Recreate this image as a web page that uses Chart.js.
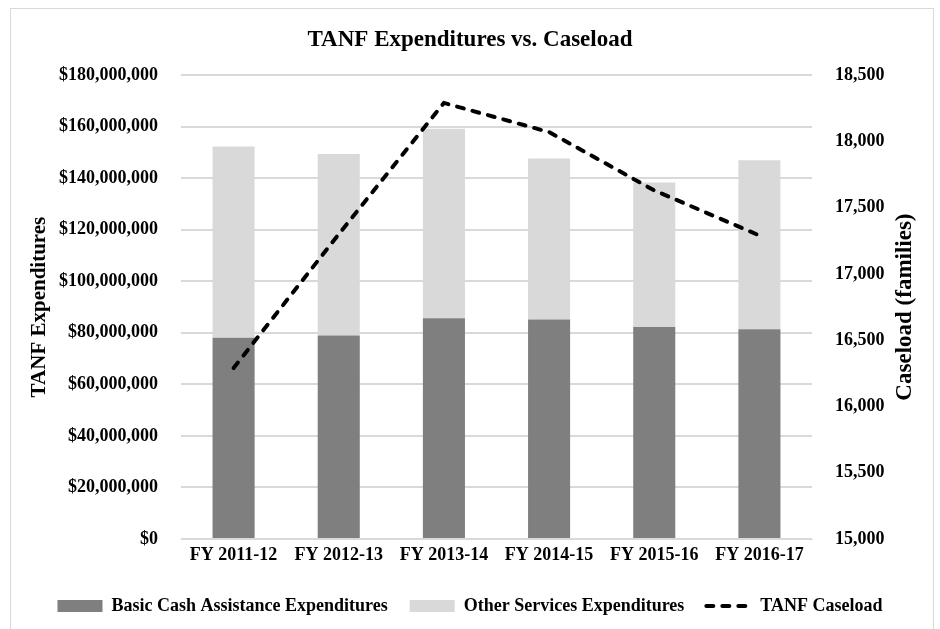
<!DOCTYPE html>
<html>
<head>
<meta charset="utf-8">
<script src="https://cdn.jsdelivr.net/npm/chart.js@4"></script>
<style>
  html, body { margin: 0; padding: 0; background: #fff; }
  #wrap { position: relative; width: 940px; height: 629px; overflow: hidden; }
  #frame { position: absolute; left: 10px; top: 8px; width: 924px; height: 700px; border: 1px solid #d9d9d9; box-sizing: border-box; pointer-events: none; }
  canvas { position: absolute; left: 0; top: 0; }
</style>
</head>
<body>
<div id="wrap">
  <canvas id="c" width="940" height="629"></canvas>
  <div id="frame"></div>
</div>
<script>
// Fiscal years on the category axis
const fiscalYears = ['FY 2011-12', 'FY 2012-13', 'FY 2013-14', 'FY 2014-15', 'FY 2015-16', 'FY 2016-17'];
// Expenditures in dollars
const basicCash = [78100000, 79000000, 85700000, 85200000, 82300000, 81400000];
const otherServices = [74200000, 70400000, 73500000, 62400000, 56000000, 65600000];
// Caseload in families
const caseload = [16290, 17300, 18290, 18070, 17630, 17290];

const seriesNames = ['Basic Cash Assistance Expenditures', 'Other Services Expenditures', 'TANF Caseload'];
const chartTitle = 'TANF Expenditures vs. Caseload';
const leftTitle = 'TANF Expenditures';
const rightTitle = 'Caseload (families)';

const serif = '"Liberation Serif", "DejaVu Serif", serif';
const caseloadDash = [7, 9];

// Both axis titles read bottom-to-top, so they are drawn here
const axisTitles = {
  id: 'axisTitles',
  afterDraw(chart) {
    const { ctx, chartArea } = chart;
    const cy = (chartArea.top + chartArea.bottom) / 2;
    ctx.save();
    ctx.fillStyle = '#000';
    ctx.textAlign = 'center';
    ctx.textBaseline = 'middle';
    [[40, leftTitle, 21], [905, rightTitle, 23]].forEach(([x, t, size]) => {
      ctx.save();
      ctx.font = 'bold ' + size + 'px ' + serif;
      ctx.translate(x, cy);
      ctx.rotate(-Math.PI / 2);
      ctx.fillText(t, 0, 0);
      ctx.restore();
    });
    ctx.restore();
  }
};

new Chart(document.getElementById('c'), {
  data: {
    labels: fiscalYears,
    datasets: [
      {
        type: 'line', label: seriesNames[2], data: caseload, yAxisID: 'yR',
        borderColor: '#000', backgroundColor: '#000', borderWidth: 4,
        borderDash: caseloadDash, borderCapStyle: 'round', pointRadius: 0,
        pointStyle: 'line', tension: 0, order: 0
      },
      {
        type: 'bar', label: seriesNames[0], data: basicCash, yAxisID: 'y',
        backgroundColor: '#7f7f7f', pointStyle: 'rect', stack: 's', order: 1,
        barPercentage: 0.4, categoryPercentage: 1
      },
      {
        type: 'bar', label: seriesNames[1], data: otherServices, yAxisID: 'y',
        backgroundColor: '#d9d9d9', pointStyle: 'rect', stack: 's', order: 1,
        barPercentage: 0.4, categoryPercentage: 1
      }
    ]
  },
  options: {
    responsive: false,
    animation: false,
    layout: { padding: { left: 0, right: 0, top: 0, bottom: 4 } },
    plugins: {
      title: {
        display: true, text: chartTitle, color: '#000',
        font: { family: serif, size: 23, weight: 'bold' },
        padding: { top: 26, bottom: 21.5 }
      },
      legend: {
        position: 'bottom',
        labels: {
          color: '#000',
          font: { family: serif, size: 18, weight: 'bold' },
          usePointStyle: true, pointStyleWidth: 45, boxHeight: 12,
          padding: 22,
          sort: (a, b) => (a.datasetIndex === 0 ? 1 : 0) - (b.datasetIndex === 0 ? 1 : 0),
          generateLabels(chart) {
            const items = Chart.defaults.plugins.legend.labels.generateLabels(chart);
            items.forEach(it => {
              if (it.datasetIndex === 0) {
                it.lineDash = caseloadDash;
                it.lineCap = 'round';
                it.lineWidth = 4;
                it.strokeStyle = '#000';
              } else {
                it.lineWidth = 0;
              }
            });
            return items;
          }
        }
      },
      tooltip: { enabled: false }
    },
    scales: {
      x: {
        stacked: true,
        grid: { display: false, drawTicks: false },
        border: { display: true, color: '#d9d9d9' },
        ticks: { color: '#000', font: { family: serif, size: 18, weight: 'bold' }, padding: 6, maxRotation: 0 },
        afterFit(s) { s.height = 36; }
      },
      y: {
        position: 'left', stacked: true, min: 0, max: 180000000,
        grid: { color: '#d9d9d9', lineWidth: 2, drawTicks: false },
        border: { display: false },
        ticks: {
          stepSize: 20000000, color: '#000', padding: 23,
          font: { family: serif, size: 18, weight: 'bold' },
          callback: v => '$' + Number(v).toLocaleString('en-US')
        },
        afterFit(s) { s.width = 181; }
      },
      yR: {
        position: 'right', min: 15000, max: 18500,
        grid: { display: false, drawTicks: false },
        border: { display: false },
        ticks: {
          stepSize: 500, color: '#000', padding: 23,
          font: { family: serif, size: 18, weight: 'bold' },
          callback: v => Number(v).toLocaleString('en-US')
        },
        afterFit(s) { s.width = 128; }
      }
    }
  },
  plugins: [axisTitles]
});
</script>
</body>
</html>
